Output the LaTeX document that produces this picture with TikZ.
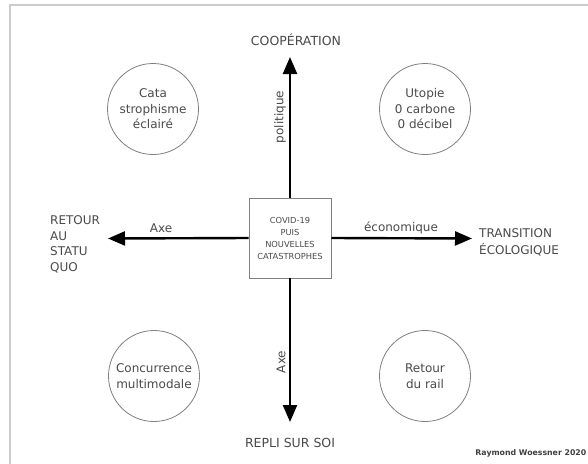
\documentclass[tikz,border=0pt]{standalone}
\usepackage{fontspec}
\setmainfont{DejaVu Sans}
\usetikzlibrary{arrows.meta}
\definecolor{txtgray}{HTML}{4A4A4A}
\definecolor{framegray}{HTML}{CCCCCC}
\definecolor{circgray}{HTML}{808080}
\tikzset{
  axis/.style={line width=2.4pt, black, -{Triangle[length=17pt,width=14pt]}},
  lbl/.style={text=txtgray, font=\fontsize{12}{14}\selectfont, inner sep=1pt},
  capslbl/.style={text=txtgray, font=\fontsize{12.5}{14}\selectfont, inner sep=1pt},
  pole/.style={text=txtgray, font=\fontsize{12}{15.5}\selectfont, inner sep=0pt, align=left},
  scen/.style={circle, draw=circgray, line width=0.8pt, minimum size=91pt, inner sep=0pt,
    align=center, text=txtgray, font=\fontsize{12}{15.5}\selectfont},
  centrebox/.style={draw=circgray, line width=0.9pt, minimum width=82pt, minimum height=80pt,
    align=center, text=txtgray, inner sep=1pt, font=\fontsize{8.3}{12}\selectfont}
}
\begin{document}
\begin{tikzpicture}[x=1pt,y=-1pt]
\useasboundingbox (0,0) rectangle (588,463);
\clip (0,0) rectangle (588,463);
\fill[white] (0,0) rectangle (588,463);
\draw[framegray, line width=2pt] (10,5) rectangle (620,490);

\node[centrebox] (box) at (290,238) {COVID-19\\PUIS\\NOUVELLES\\CATASTROPHES};

\coordinate (topend) at (290,57);
\coordinate (botend) at (290,422);
\coordinate (leftend) at (108,238.5);
\coordinate (rightend) at (472,238.5);

\draw[axis] (box.north) -- (topend);
\draw[axis] (box.south) -- (botend);
\draw[axis] (box.west) -- (leftend);
\draw[axis] (box.east) -- (rightend);

\node[capslbl] (coop) at (296,40) {COOPÉRATION};
\node[capslbl] (repli) at (290,443) {REPLI SUR SOI};
\node[pole, anchor=west] (retour) at (50,244.5) {RETOUR\\AU\\STATU\\QUO};
\node[pole, anchor=west, font=\fontsize{12}{17}\selectfont] (trans) at (479,242) {TRANSITION\\ÉCOLOGIQUE};

\node[lbl] (axeL) at (161,228) {Axe};
\node[lbl] (eco) at (401,228) {économique};
\node[lbl, rotate=90] (pol) at (280,117) {politique};
\node[lbl, rotate=90] (axeD) at (281,362) {Axe};

\node[scen] (tl) at (153,109) {Cata\\strophisme\\éclairé};
\node[scen] (tr) at (425,109) {Utopie\\0 carbone\\0 décibel};
\node[scen] (bl) at (154,376) {Concurrence\\multimodale};
\node[scen] (br) at (425,376) {Retour\\du rail};

\node[anchor=east, inner sep=0pt, text=black!75, font=\bfseries\fontsize{7.8}{9}\selectfont] (sig) at (586.5,453) {Raymond Woessner 2020};
\end{tikzpicture}
\end{document}
